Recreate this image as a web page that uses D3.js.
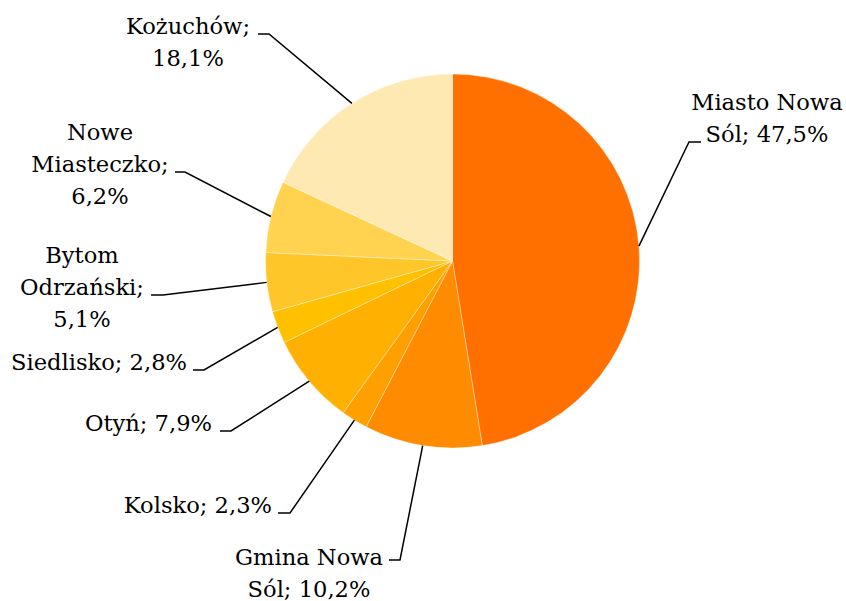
<!DOCTYPE html>
<html>
<meta charset="utf-8">
<script src="https://d3js.org/d3.v7.js"></script>
<style>
  body { margin: 0; background: #fff; }
  .lbl { font-family: "DejaVu Serif", serif; font-size: 22.6px; fill: #000; }
</style>
<body>
<div id="my_dataviz"></div>
<script type="text/javascript">
  // data: clockwise from 12 o'clock
  var gminy = ["Miasto Nowa Sól", "Gmina Nowa Sól", "Kolsko", "Otyń", "Siedlisko",
               "Bytom Odrzański", "Nowe Miasteczko", "Kożuchów"]
  var udzial = [47.5, 10.2, 2.3, 7.9, 2.8, 5.1, 6.2, 18.1]
  var kolory = ["#FF7000", "#FF8C00", "#FF9F00", "#FFB000", "#FFC000", "#FFC629", "#FFD34F", "#FFE9B3"]
  // how each label is broken into lines
  var etykiety = [
    ["Miasto Nowa", "Sól; 47,5%"],
    ["Gmina Nowa", "Sól; 10,2%"],
    ["Kolsko; 2,3%"],
    ["Otyń; 7,9%"],
    ["Siedlisko; 2,8%"],
    ["Bytom", "Odrzański;", "5,1%"],
    ["Nowe", "Miasteczko;", "6,2%"],
    ["Kożuchów;", "18,1%"]
  ]

  // label placement (layout only)
  var labelPos = [
    {x: 767, y: 110, anchor: "middle", elbow: [689, 142], end: 701},
    {x: 309, y: 565, anchor: "middle", elbow: [400, 560], end: 389},
    {x: 272, y: 513, anchor: "end", elbow: [290, 513], end: 278},
    {x: 212, y: 431, anchor: "end", elbow: [231, 431], end: 220},
    {x: 187, y: 370, anchor: "end", elbow: [204, 370], end: 193},
    {x: 82, y: 263, anchor: "middle", elbow: [163, 295], end: 151},
    {x: 100, y: 140, anchor: "middle", elbow: [185, 172], end: 175},
    {x: 188, y: 34, anchor: "middle", elbow: [269, 34], end: 258}
  ]

  var width = 846, height = 601
  var cx = 452.5, cy = 261, radius = 187
  var lineH = 32

  var svg = d3.select("#my_dataviz")
    .append("svg")
      .attr("width", width)
      .attr("height", height)

  var pie = d3.pie().sort(null).value(function(d) { return d })
  var arcs = pie(udzial)

  var arc = d3.arc().innerRadius(0).outerRadius(radius)

  var g = svg.append("g")
    .attr("transform", "translate(" + cx + "," + cy + ")")

  g.selectAll("path.slice")
    .data(arcs)
    .enter()
    .append("path")
      .attr("class", "slice")
      .attr("d", arc)
      .style("fill", function(d, i) { return kolory[i] })
      .style("stroke", "rgba(255,255,255,0.45)")
      .style("stroke-width", 0.8)

  // leader lines: slice edge at mid angle -> elbow -> short horizontal
  svg.selectAll("polyline.leader")
    .data(arcs)
    .enter()
    .append("polyline")
      .attr("class", "leader")
      .attr("points", function(d, i) {
        var a = (d.startAngle + d.endAngle) / 2
        var p0 = [cx + radius * Math.sin(a), cy - radius * Math.cos(a)]
        var lp = labelPos[i]
        return [p0, lp.elbow, [lp.end, lp.elbow[1]]].map(function(p) { return p.join(",") }).join(" ")
      })
      .style("fill", "none")
      .style("stroke", "#000")
      .style("stroke-width", 1.5)

  var labels = svg.selectAll("text.lbl")
    .data(etykiety)
    .enter()
    .append("text")
      .attr("class", "lbl")
      .attr("text-anchor", function(d, i) { return labelPos[i].anchor })

  labels.each(function(lines, i) {
    var t = d3.select(this)
    lines.forEach(function(s, k) {
      t.append("tspan")
        .attr("x", labelPos[i].x)
        .attr("y", labelPos[i].y + k * lineH)
        .text(s)
    })
  })
</script>
</body>
</html>
